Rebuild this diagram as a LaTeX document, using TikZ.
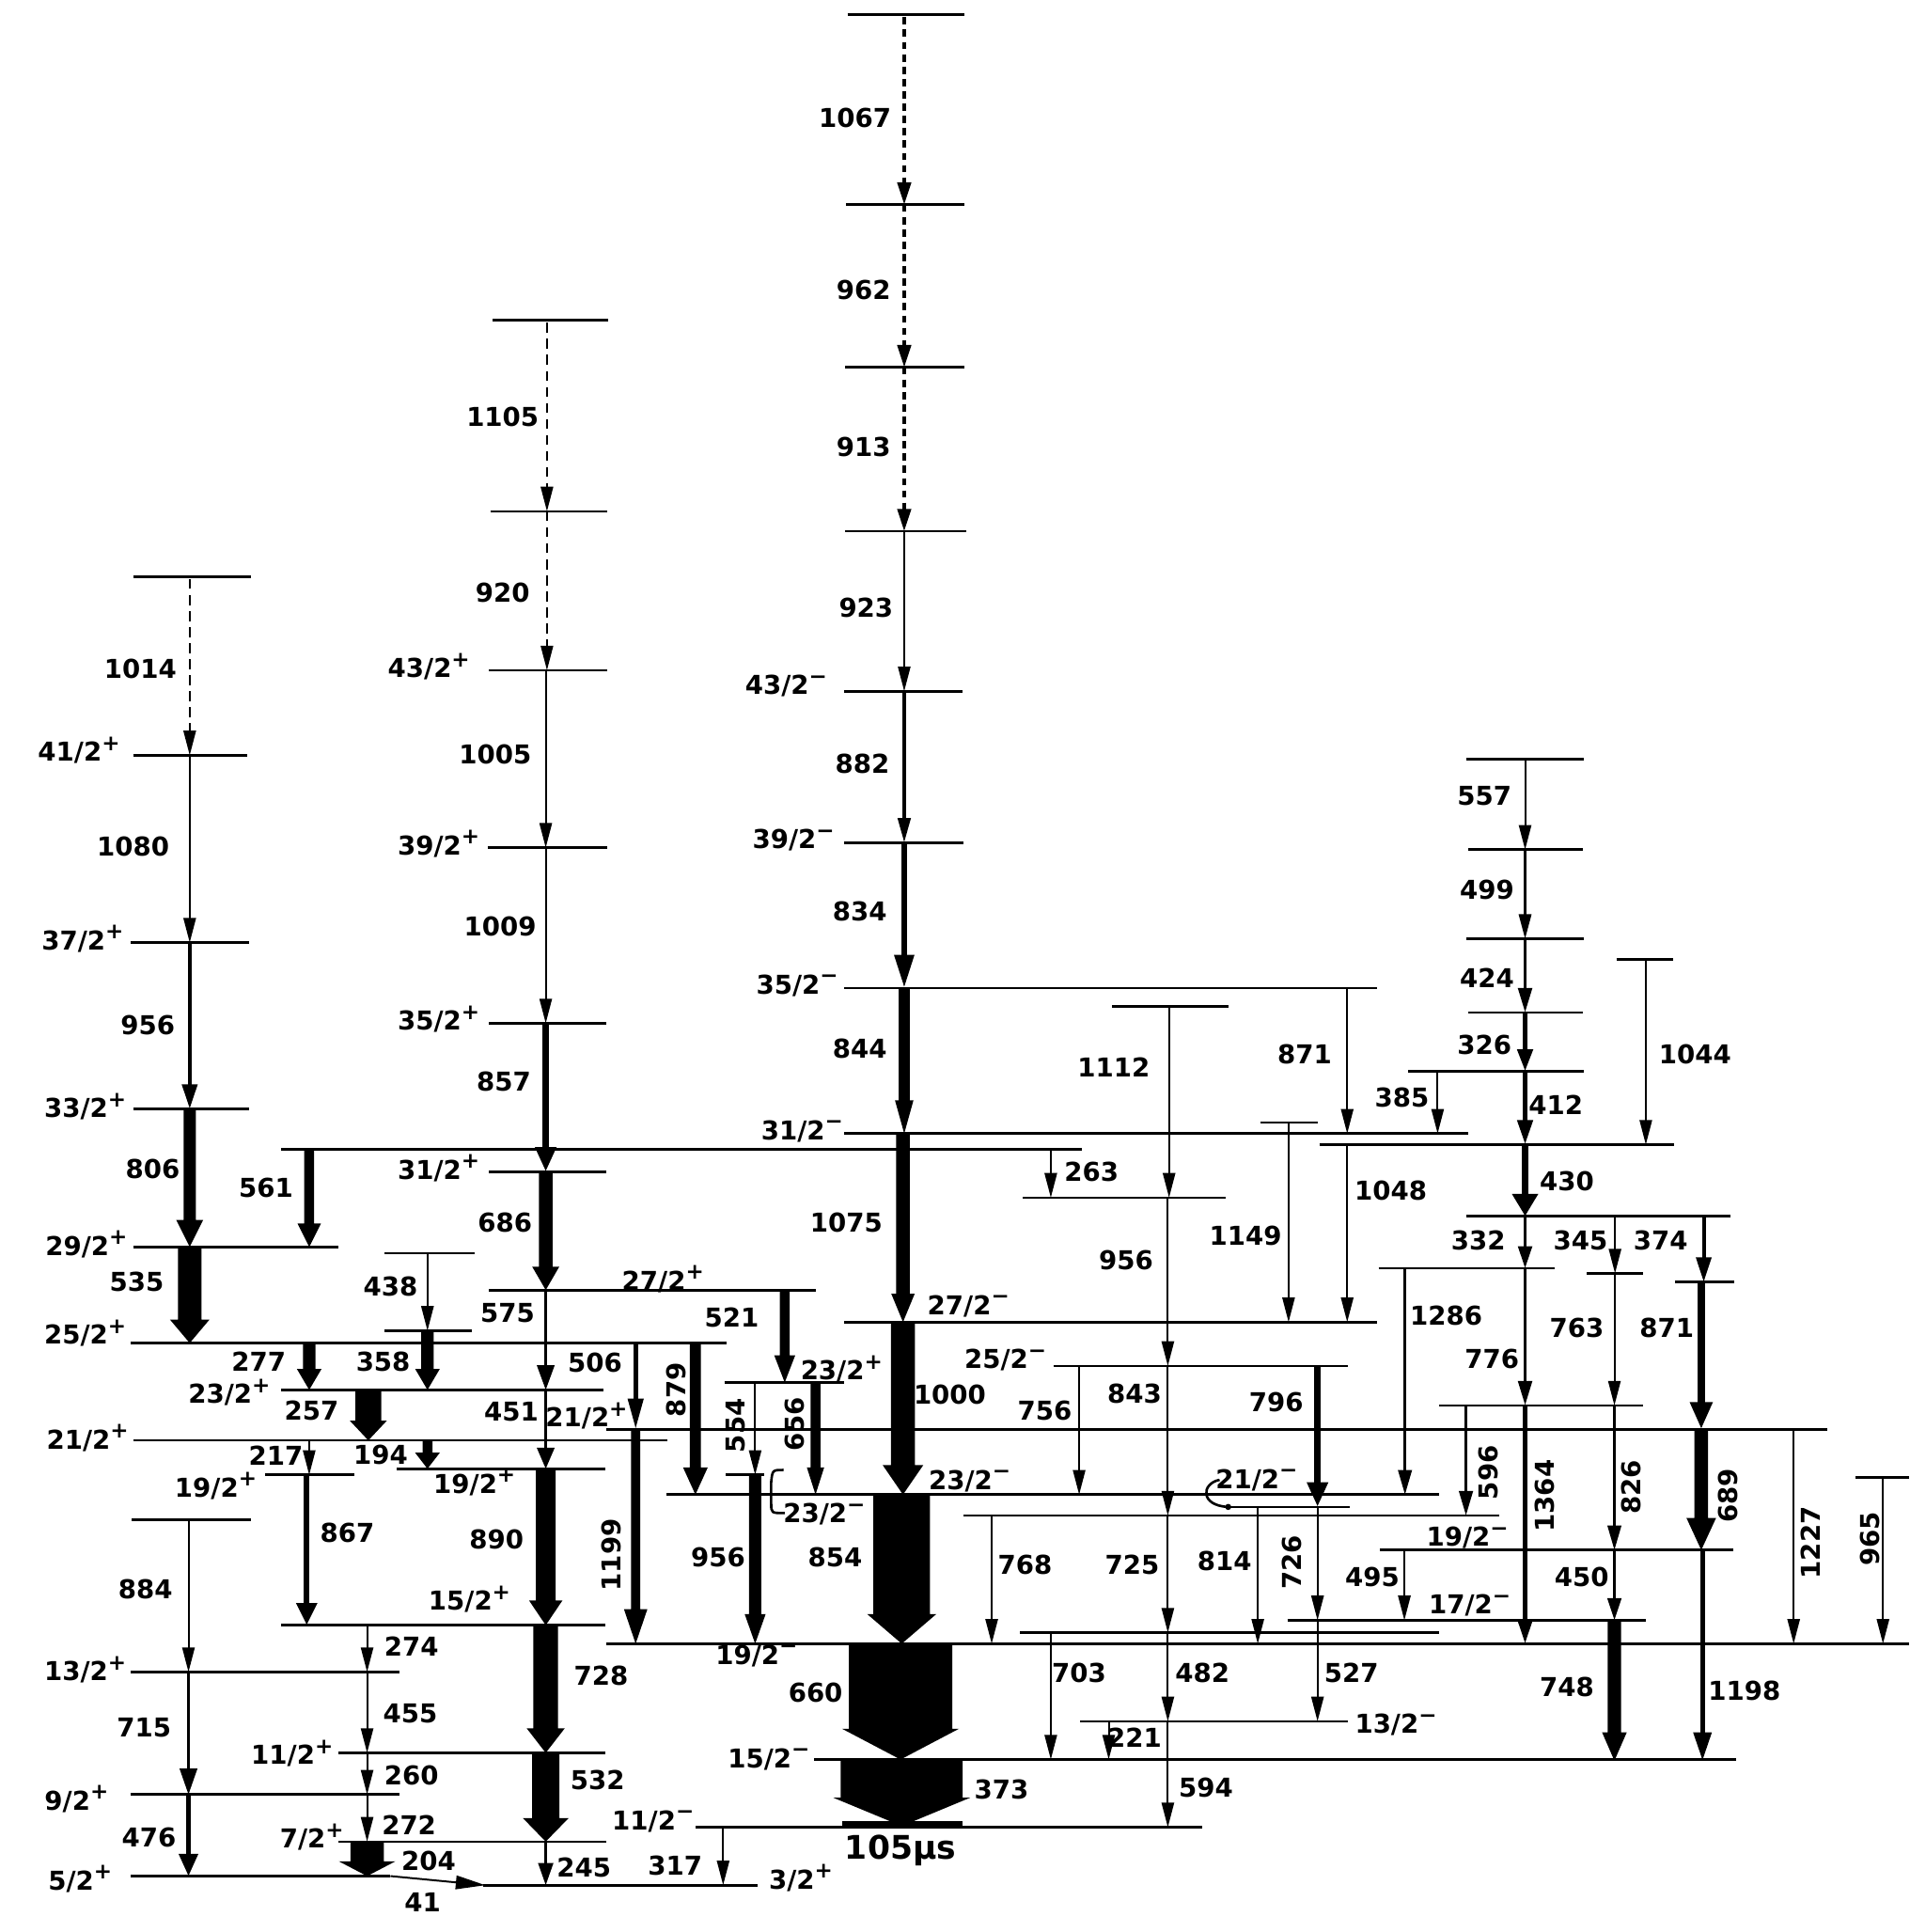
\documentclass[tikz,border=0pt]{standalone}
\usepackage{fontspec}
\setmainfont{DejaVu Sans}
\usetikzlibrary{arrows.meta}

% filled gamma arrow: x, top, bottom, shaft width, head width, head length
\newcommand{\fatarrow}[6]{%
  \fill (#1-#4/2,#2) -- (#1+#4/2,#2) -- (#1+#4/2,#3-#6) -- (#1+#5/2,#3-#6)
    -- (#1,#3) -- (#1-#5/2,#3-#6) -- (#1-#4/2,#3-#6) -- cycle;}

\begin{document}
\begin{tikzpicture}[x=0.1mm, y=-0.1mm,
    lvl/.style={line width=0.2mm},
    thn/.style={line width=0.15mm, -{Triangle[width=1mm,length=2mm]}},
    dsh/.style={thn, dash pattern=on 0.8mm off 0.5mm},
    hdsh/.style={line width=0.25mm, dash pattern=on 0.6mm off 0.4mm, -{Triangle[width=1.1mm,length=1.8mm]}},
    gm/.style n args={3}{line width=#1, -{Triangle[width=#2,length=#3]}},
    lab/.style={font=\bfseries\fontsize{6}{7}\selectfont, inner sep=0pt},
    rlab/.style={lab, rotate=90}
  ]
\fill[white] (0,0) rectangle (1550,1568);
\useasboundingbox (0,0) rectangle (1550,1568);

% levels
\foreach \xa/\xb/\y in {108/204/468, 108/201/613, 106/202/765, 108/202/900, 108/275/1012,
    106/590/1090, 108/542/1169, 107/204/1233.5, 106/324/1357, 106/324/1456.4, 106/317/1522.6,
    228/878/933, 228/490/1128, 215/288/1197, 322/491/1192, 312/385/1017, 312/383/1080,
    228/491/1319, 275/491/1422.6, 275/492/1494.6,
    400/494/260, 398/493/415, 397/493/544, 396/493/688, 397/492/830.5, 397/492/951, 397/662/1047,
    492/1483/1160, 492/1550/1334, 392/615/1530, 565/976/1483, 588/685/1122, 589/620/1197, 541/1168/1213,
    688/783/12, 687/783/166, 686/783/298, 686/784/431, 685/781/561, 685/782/684,
    685/1118/802, 685/1192/920, 685/1118/1073, 661/1409/1428,
    903/997/817, 830/995/972, 1023/1070/911, 1071/1359/929, 855/1094/1108.6, 995/1096/1223,
    782/1217/1230, 1120/1407/1258, 1045/1336/1315, 828/1168/1325, 877/1094/1397, 1168/1334/1140.7,
    1506/1550/1199, 1119/1262/1029.4, 1288/1334/1033.5, 1360/1408/1040.5, 1190/1405/987,
    1190/1286/616, 1192/1285/689.6, 1190/1286/762, 1192/1285/821.8, 1143/1286/869.6, 1312/1358/778.8}
  \draw[lvl] (\xa,\y) -- (\xb,\y);
\draw[line width=0.6mm] (684,1481) -- (781,1481);

% hooks
\draw[lvl] (636,1193) .. controls (627,1193) .. (626,1203) -- (626,1220) .. controls (626,1228) .. (637,1228);
\draw[lvl] (990,1201) .. controls (975,1204) and (974,1222) .. (997,1223);
\fill (997,1223) circle (2.5);

% heavy transitions
\fatarrow{154}{900}{1012}{10}{22}{22}
\fatarrow{154}{1012}{1090}{19}{32}{19}
\fatarrow{251}{933}{1012}{8}{19}{19}
\fatarrow{251}{1090}{1128}{10}{20}{17}
\fatarrow{299}{1128}{1169}{21}{30}{16}
\fatarrow{347}{1080}{1128}{10}{20}{17}
\fatarrow{347}{1169}{1192}{8}{20}{13}
\fatarrow{298}{1494.6}{1522.6}{27}{46}{12}
\fatarrow{443}{951}{1047}{11}{22}{19}
\fatarrow{443}{1192}{1319}{16}{27}{20}
\fatarrow{443}{1319}{1422.6}{20}{31}{20}
\fatarrow{443}{1422.6}{1494.6}{22}{37}{19}
\fatarrow{516}{1160}{1334}{7.5}{19}{28}
\fatarrow{564.5}{1090}{1213}{9}{20}{22}
\fatarrow{637}{1047}{1122}{8}{17}{22}
\fatarrow{662}{1122}{1213}{8}{14}{22}
\fatarrow{613}{1197}{1334}{10}{17}{24}
\fatarrow{734}{802}{920}{9}{15}{27}
\fatarrow{733}{920}{1073}{11}{19}{23}
\fatarrow{733}{1073}{1213}{19.4}{33}{24}
\fatarrow{732}{1213}{1334}{46}{56}{24}
\fatarrow{731}{1334}{1428}{84}{95}{25}
\fatarrow{732}{1428}{1482}{99}{111}{23}
\fatarrow{1310.5}{1315}{1429}{11}{20}{23}
\fatarrow{1381}{1160}{1258}{11}{24}{26}

% medium transitions
\draw[gm={0.35mm}{1.2mm}{2mm}] (154,765) -- (154,900);
\draw[gm={0.35mm}{1.5mm}{1.8mm}] (153,1456.4) -- (153,1522.6);
\draw[gm={0.45mm}{1.6mm}{1.8mm}] (249,1197) -- (249,1319);
\draw[gm={0.5mm}{1.6mm}{2mm}] (443,830.5) -- (443,951);
\draw[gm={0.4mm}{1.2mm}{2.5mm}] (516,1090) -- (516,1160);
\draw[gm={0.3mm}{1mm}{2mm}] (734,561) -- (734,684);
\draw[gm={0.5mm}{1.5mm}{2.7mm}] (734,684) -- (734,802);
\draw[gm={0.5mm}{1.6mm}{2mm}] (1069.5,1108.6) -- (1069.5,1223);
\draw[gm={0.2mm}{1mm}{2mm}] (1238,689.6) -- (1238,762);
\draw[gm={0.3mm}{1.1mm}{2mm}] (1238,762) -- (1238,821.8);
\draw[gm={0.4mm}{1.2mm}{1.8mm}] (1238,821.8) -- (1238,869.6);
\draw[gm={0.4mm}{1.2mm}{2mm}] (1238,869.6) -- (1238,929);
\draw[gm={0.5mm}{2mm}{1.8mm}] (1238,929) -- (1238,987);
\draw[gm={0.3mm}{1.1mm}{1.8mm}] (1238,987) -- (1238,1029.4);
\draw[gm={0.3mm}{1.1mm}{2mm}] (1238,1029.4) -- (1238,1140.7);
\draw[gm={0.35mm}{1.2mm}{2mm}] (1238,1140.7) -- (1238,1334);
\draw[gm={0.3mm}{1.2mm}{2mm}] (1383,987) -- (1383,1040.5);
\draw[gm={0.55mm}{1.7mm}{2.2mm}] (1381,1040.5) -- (1381,1160);
\draw[gm={0.4mm}{1.4mm}{2.3mm}] (1382,1258) -- (1382,1429);
\draw[gm={0.25mm}{1.1mm}{1.8mm}] (1310.5,1258) -- (1310.5,1315);
\draw[gm={0.2mm}{1.1mm}{2mm}] (1310.5,1140.7) -- (1310.5,1258);
\draw[gm={0.25mm}{1.1mm}{2mm}] (1190,1140.7) -- (1190,1230);
\draw[gm={0.2mm}{1.1mm}{2mm}] (1140.5,1029.4) -- (1140.5,1213);
\draw[gm={0.2mm}{1.2mm}{1.8mm}] (443,1494.6) -- (443,1530);
\draw[gm={0.2mm}{1.4mm}{2mm}] (443,1047) -- (443,1128);
\draw[gm={0.2mm}{1.4mm}{1.7mm}] (443,1128) -- (443,1192);
\draw[gm={0.2mm}{1.4mm}{2.1mm}] (153,1357) -- (153,1456.4);

% weak transitions
\foreach \x/\ya/\yb in {154/613/765, 153/1233.5/1357, 251/1169/1197, 298/1319/1357, 298/1357/1422.6,
    298/1422.6/1456.4, 298/1456.4/1494.6, 347/1017/1080, 443/544/688, 443/688/830.5, 613/1122/1197,
    734/431/561, 853/933/972, 949/817/972, 948/972/1108.6, 948/1108.6/1230, 948/1230/1325,
    948/1325/1397, 948/1397/1483, 876/1108.6/1213, 805/1230/1334, 853/1325/1428, 900/1397/1428,
    1093.6/802.5/920, 1093.6/929/1073, 1046/911/1073, 1069.5/1223/1315, 1069.5/1315/1397,
    1021/1223/1334, 1140/1258/1315, 1167/869.6/920, 1238/616/689.6, 1336/778.8/929,
    1311/987/1033.5, 1310.5/1033.5/1140.7, 1456/1160/1334, 1528.5/1199/1334, 587/1483/1530}
  \draw[thn] (\x,\ya) -- (\x,\yb);
\draw[thn, -{Triangle[width=1.1mm,length=2.4mm]}] (317,1522.6) -- (394,1530);

% tentative transitions
\draw[dsh] (154,470) -- (154,613);
\draw[dsh] (444,262) -- (444,415);
\draw[dsh] (444,415) -- (444,544);
\draw[hdsh] (734,14) -- (734,166);
\draw[hdsh] (734,166) -- (734,298);
\draw[hdsh] (734,298) -- (734,431);

% gamma energies
\foreach \nm/\x/\y/\t in {a/114/543/1014, b/108/687/1080, c/120/832/956, d/124/949/806, e/111/1040/535,
    f/118/1290/884, g/117/1402/715, h/121/1491/476, i/216/964/561, j/210/1105/277, k/224/1181/217,
    l/282/1244/867, m/253/1145/257, n/334/1336/274, o/333/1391/455, p/334/1441/260, q/332/1481/272,
    r/348/1510/204, s/343/1544/41, t/317/1044/438, u/311/1105/358, v/309/1181/194, w/408/338/1105,
    x/408/481/920, y/402/612/1005, z/406/752/1009, aa/409/878/857, ab/410/992/686, ac/412/1066/575,
    ad/415/1146/451, ae/403/1249/890, af/488/1360/728, ag/485/1445/532, ah/474/1516/245,
    ai/483/1106/506, aj/594/1069/521, ak/583/1264/956, al/694/96/1067, am/701/235/962, an/701/363/913,
    ao/703/493/923, ap/700/620/882, aq/698/740/834, ar/698/851/844, as/687/992/1075, at/771/1132/1000,
    au/678/1264/854, av/662/1374/660, aw/813/1452/373, ax/548/1514/317, ay/886/951/263, az/904/866/1112,
    ba/914/1023/956, bb/921/1131/843, bc/919/1270/725, bd/976/1358/482, be/979/1451/594, bf/848/1145/756,
    bg/832/1270/768, bh/876/1358/703, bi/921/1410/221, bj/1059/856/871, bk/1129/966/1048, bl/1011/1003/1149,
    bm/1036/1138/796, bn/1097/1358/527, bo/994/1267/814, bp/1174/1068/1286, bq/1114/1280/495,
    br/1138/891/385, bs/1205/646/557, bt/1207/722/499, bu/1207/794/424, bv/1205/848/326, bw/1263/897/412,
    bx/1272/959/430, by/1200/1007/332, bz/1211/1103/776, ca/1376/856/1044, cb/1283/1007/345,
    cc/1280/1078/763, cd/1284/1280/450, ce/1272/1369/748, cf/1348/1007/374, cg/1353/1078/871,
    ch/1416/1372/1198}
  \node[lab] (g\nm) at (\x,\y) {\t};
\foreach \nm/\x/\y/\t in {a/496/1262/1199, b/549/1128/879, c/597/1157/554, d/645/1156/656,
    e/1049/1268/726, f/1208/1195/596, g/1254/1214/1364, h/1324/1207/826, i/1403/1214/689,
    j/1470/1252/1227, k/1518/1249/965}
  \node[rlab] (r\nm) at (\x,\y) {\t};
\node[lab, font=\bfseries\fontsize{7.5}{9}\selectfont] (life) at (731,1502) {105μs};

% spins (all half-integer)
\foreach \nm/\x/\y/\t in {a/65/609/41, b/68/762/37, c/70/898/33, d/71/1010/29, e/70/1082/25,
    f/72/1167/21, g/187/1130/23, h/176/1206/19, i/70/1355/13, j/63/1460/9, k/66/1525/5,
    l/238/1423/11, m/254/1491/7, n/382/1298/15, o/386/1203/19, p/357/948/31, q/357/827/35,
    r/357/685/39, s/349/541/43, t/539/1038/27, u/477/1149/21, v/684/1111/23, w/651/1524/3}
  \node[lab] (sp\nm) at (\x,\y) {\t/2\textsuperscript{+}};
\foreach \nm/\x/\y/\t in {a/670/1229/23, b/615/1344/19, c/625/1428/15, d/531/1478/11,
    e/639/557/43, f/645/682/39, g/648/800/35, h/652/918/31, i/787/1060/27, j/817/1104/25,
    k/788/1202/23, l/1021/1201/21, m/1192/1248/19, n/1194/1303/17, o/1134/1400/13}
  \node[lab] (sm\nm) at (\x,\y) {\t/2\textsuperscript{−}};
\end{tikzpicture}
\end{document}
